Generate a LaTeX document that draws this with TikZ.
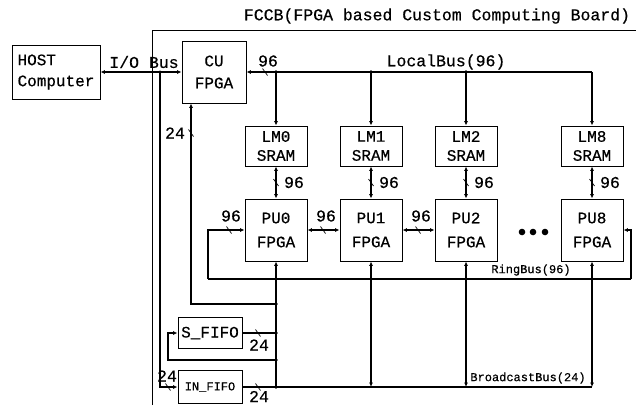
\documentclass[tikz,border=0pt]{standalone}
\usepackage{fontspec}
\setmainfont{Liberation Mono}[FakeBold=0.5]
\usetikzlibrary{arrows.meta,calc}
\begin{document}
\begin{tikzpicture}[x=1pt,y=-1pt,
  box/.style={draw,line width=0.9pt,inner sep=0pt,align=center,font=\fontsize{16}{21}\selectfont},
  bus/.style={line width=1.1pt},
  ring/.style={line width=1.8pt},
  tip/.tip={Latex[length=4.5pt,width=4pt]},
  lab/.style={inner sep=0pt,font=\fontsize{16.5}{18}\selectfont},
  small/.style={inner sep=0pt,font=\fontsize{12}{14}\selectfont},
  pics/tk/.style={code={\draw[line width=0.7pt] (-2.5,-3.5) -- (2.5,3.5);}}
]
\useasboundingbox (0,0) rectangle (636,405);

% board border and title
\coordinate (bb) at (152,405);
\coordinate (bt) at (152,30);
\coordinate (br) at (636,30);
\draw[line width=0.8pt] (bb) -- (bt) -- (br);
\node[lab] (title) at (437,16) {FCCB(FPGA based Custom Computing Board)};

% boxes
\node[box,minimum width=88pt,minimum height=54pt,align=left] (host) at (56,72) {HOST\\Computer};
\node[box,minimum width=64pt,minimum height=62pt,font=\fontsize{16}{22}\selectfont] (cu) at (214,72) {CU\\FPGA};

\foreach \n/\x in {0/276,1/371,2/466,8/592}{
  \node[box,minimum width=62pt,minimum height=40pt,font=\fontsize{16}{19}\selectfont] (lm\n) at (\x,146) {LM\n\\SRAM};
  \node[box,minimum width=62pt,minimum height=62pt,font=\fontsize{16}{24}\selectfont] (pu\n) at (\x,230) {PU\n\\FPGA};
}

\node[box,minimum width=64pt,minimum height=31pt,font=\fontsize{16}{18}\selectfont] (sfifo) at (210,333) {S\_FIFO};
\node[box,minimum width=64pt,minimum height=33pt,font=\fontsize{12}{14}\selectfont] (infifo) at (210,387) {IN\_FIFO};

% dots between PU2 and PU8
\foreach \x in {522,533,545}{\fill (\x,232) circle (3.3);}

% I/O bus
\coordinate (j1) at (160,72);
\draw[bus,tip-tip] (host.east) -- (cu.west);
\fill (j1) circle (1.6);
\node[lab] (iolab) at (144,62) {I/O Bus};
\draw[bus,-tip] (j1) |- (infifo.west);
\pic at (168,387) {tk};
\node[lab] (l24a) at (167,376) {24};

% spine and junctions
\coordinate (s1) at (276,304);
\coordinate (s2) at (276,333);
\coordinate (s3) at (276,360);
\coordinate (s4) at (276,387);
\coordinate (c24) at (191,304);
\draw[bus,tip-] (pu0.south) -- (s4);
\draw[bus,tip-] (cu.south -| c24) -- (c24) -- (s1);
\pic at (191,133) {tk};
\node[lab] (l24b) at (175,133) {24};
\draw[bus] (sfifo.east) -- (s2);
\pic at (258,333) {tk};
\node[lab] (l24c) at (259,345) {24};
\coordinate (fbl) at (168,360);
\draw[bus,-tip] (s3) -- (fbl) |- (sfifo.west);
\draw[bus] (infifo.east) -- (s4);
\pic at (258,387) {tk};
\node[lab] (l24d) at (259,396.5) {24};
\foreach \p in {s1,s2,s3,s4}{\fill (\p) circle (1.8);}

% broadcast bus
\coordinate (b8) at (592,387);
\draw[bus] (s4) -- (b8);
\foreach \n in {1,2,8}{\draw[bus,tip-tip] (pu\n.south) -- (pu\n.south |- b8);}
\node[small] (bclab) at (528,378) {BroadcastBus(24)};

% local bus
\coordinate (l8) at (592,72);
\draw[bus,tip-] (cu.east) -- (l8);
\draw[bus,-tip] (l8) -- (lm8.north);
\foreach \n in {0,1,2}{
  \draw[bus,-tip] (lm\n.north |- l8) -- (lm\n.north);
  \fill (lm\n.north |- l8) circle (1.8);
}
\pic at (265,72) {tk};
\node[lab] (l96cu) at (268,61) {96};
\node[lab] (lblab) at (446,62) {LocalBus(96)};

% LM to PU
\foreach \n in {0,1,2,8}{
  \draw[bus,tip-tip] (lm\n.south) -- (pu\n.north);
  \pic at ($(lm\n.south)!0.5!(pu\n.north)$) {tk};
  \node[lab] at ($(lm\n.south)!0.5!(pu\n.north)+(18,0)$) {96};
}

% PU chain
\draw[bus,tip-tip] (pu0.east) -- (pu1.west);
\draw[bus,tip-tip] (pu1.east) -- (pu2.west);
\pic at (323,230) {tk};
\pic at (418,230) {tk};
\node[lab] (l96a) at (326,216) {96};
\node[lab] (l96b) at (421,216) {96};

% ring bus
\coordinate (rl) at (208,279);
\coordinate (rr) at (631,279);
\draw[ring] (rl) -- (rr);
\draw[bus,-tip] (rl) |- (pu0.west);
\draw[bus,-tip] (rr) |- (pu8.east);
\pic at (229,230) {tk};
\node[lab] (l96r) at (231,216) {96};
\node[small] (rblab) at (531,270) {RingBus(96)};
\end{tikzpicture}
\end{document}
